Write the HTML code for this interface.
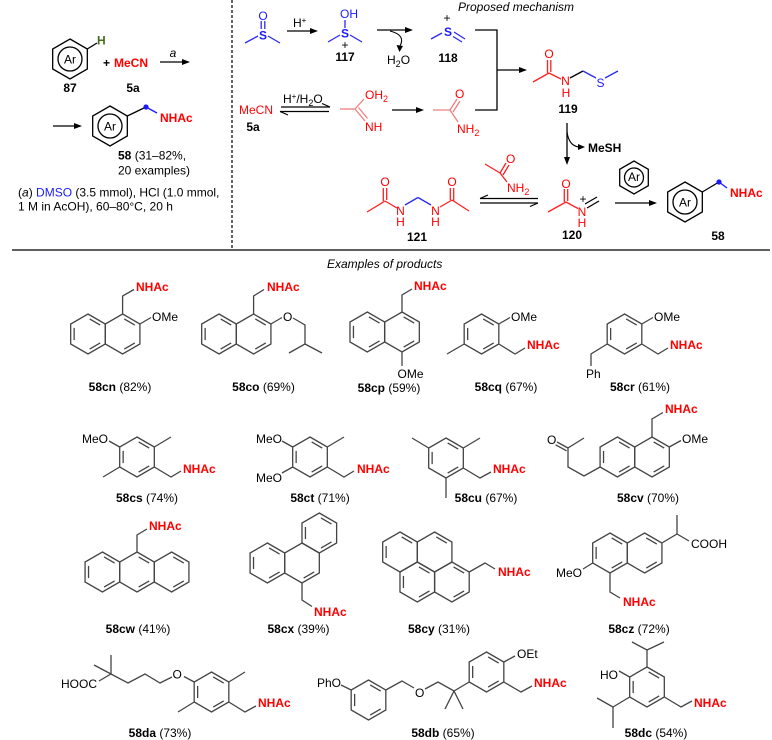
<!DOCTYPE html>
<html><head><meta charset="utf-8">
<style>
html,body{margin:0;padding:0;background:#fff;}
svg{display:block;}
text{font-family:"Liberation Sans",Arial,sans-serif;font-size:12px;fill:#000;}
.b{font-weight:bold;}
.r{fill:#ff0000;}
.bl{fill:#1a1aff;}
.i{font-style:italic;}
</style></head><body>
<svg width="772" height="740" viewBox="0 0 772 740" xmlns="http://www.w3.org/2000/svg">
<defs>
<polygon id="hx" points="0,-20 17.32,-10 17.32,10 0,20 -17.32,10 -17.32,-10" fill="none"/>
<line id="i01" x1="1.66" y1="-15.04" x2="12.2" y2="-8.96"/>
<line id="i12" x1="13.86" y1="-6.08" x2="13.86" y2="6.08"/>
<line id="i23" x1="12.2" y1="8.96" x2="1.66" y2="15.04"/>
<line id="i34" x1="-1.66" y1="15.04" x2="-12.2" y2="8.96"/>
<line id="i45" x1="-13.86" y1="6.08" x2="-13.86" y2="-6.08"/>
<line id="i50" x1="-12.2" y1="-8.96" x2="-1.66" y2="-15.04"/>
</defs>

<!-- frame lines -->
<line x1="12" y1="250" x2="770" y2="250" stroke="#000" stroke-width="1.3"/>
<line x1="232" y1="0" x2="232" y2="250" stroke="#000" stroke-width="1.2" stroke-dasharray="3,2"/>

<!-- ===== top left ===== -->
<g stroke="#000" stroke-width="1.3" fill="none">
<use href="#hx" x="70" y="59"/>
<circle cx="70" cy="59" r="12"/>
<line x1="87.3" y1="49" x2="97" y2="43"/>
<line x1="160" y1="62" x2="184" y2="62"/>
<line x1="53" y1="126" x2="76" y2="126"/>
<use href="#hx" x="110" y="126"/>
<circle cx="110" cy="126" r="12"/>
<line x1="127.3" y1="116" x2="146" y2="107"/>
</g>
<polygon points="190,62 182,59 182,65" fill="#000"/>
<polygon points="82,126 74,123 74,129" fill="#000"/>
<line x1="146" y1="107" x2="157" y2="113" stroke="#1a1aff" stroke-width="1.3"/>
<circle cx="146" cy="107" r="2.6" fill="#1a1aff"/>
<text x="70" y="63.5" text-anchor="middle">Ar</text>
<text x="110" y="130.5" text-anchor="middle">Ar</text>
<text x="97" y="44.5" class="b" style="fill:#4b6b1f">H</text>
<text x="70" y="92" text-anchor="middle" class="b">87</text>
<text x="103" y="67" class="b">+</text>
<text x="114" y="67" class="b r">MeCN</text>
<text x="133" y="92" text-anchor="middle" class="b">5a</text>
<text x="173" y="57" text-anchor="middle" class="i">a</text>
<text x="160" y="122" class="b r">NHAc</text>
<text x="118" y="159.5"><tspan class="b">58</tspan> (31–82%,</text>
<text x="118" y="174.5">20 examples)</text>
<text x="18" y="196.5">(<tspan class="i">a</tspan>) <tspan class="bl">DMSO</tspan> (3.5 mmol), HCl (1.0 mmol,</text>
<text x="18" y="210.5">1 M in AcOH), 60–80°C, 20 h</text>

<!-- ===== mechanism ===== -->
<text x="458" y="11" class="i">Proposed mechanism</text>

<!-- DMSO -->
<g stroke="#2a2aee" stroke-width="1.3">
<line x1="245" y1="43" x2="258" y2="36"/>
<line x1="268" y1="36" x2="280" y2="43"/>
<line x1="261.2" y1="21" x2="261.2" y2="29"/>
<line x1="264.8" y1="21" x2="264.8" y2="29"/>
</g>
<text x="263" y="20" text-anchor="middle" class="bl">O</text>
<text x="263" y="39.5" text-anchor="middle" class="bl b">S</text>

<!-- H+ arrow -->
<line x1="287" y1="31" x2="312" y2="31" stroke="#000" stroke-width="1.3"/>
<polygon points="318,31 310,28 310,34" fill="#000"/>
<text x="293" y="27">H<tspan dy="-4" font-size="8">+</tspan></text>

<!-- 117 -->
<g stroke="#2a2aee" stroke-width="1.3">
<line x1="345" y1="20" x2="345" y2="28"/>
<line x1="328" y1="42" x2="340" y2="35"/>
<line x1="350" y1="35" x2="362" y2="42"/>
</g>
<text x="340" y="18" class="bl">OH</text>
<text x="345" y="37.5" text-anchor="middle" class="bl b">S</text>
<text x="345" y="49" text-anchor="middle" font-size="11">+</text>
<text x="345" y="61" text-anchor="middle" class="b">117</text>

<!-- arrow to 118 -->
<line x1="377" y1="30" x2="407" y2="30" stroke="#000" stroke-width="1.3"/>
<polygon points="413,30 405,27 405,33" fill="#000"/>
<path d="M390,31 Q406,35 400,46" stroke="#000" stroke-width="1.1" fill="none"/>
<polygon points="399.5,52 396.5,45 403,46" fill="#000"/>
<text x="387" y="64">H<tspan dy="3" font-size="9">2</tspan><tspan dy="-3">O</tspan></text>

<!-- 118 -->
<g stroke="#2a2aee" stroke-width="1.3">
<line x1="431" y1="39" x2="442" y2="33"/>
<line x1="454" y1="32" x2="465" y2="39"/>
<line x1="453" y1="36.5" x2="462" y2="42"/>
</g>
<text x="447" y="22" text-anchor="middle" font-size="11">+</text>
<text x="448" y="36" text-anchor="middle" class="bl b">S</text>
<text x="448" y="62" text-anchor="middle" class="b">118</text>

<!-- bracket -->
<g stroke="#000" stroke-width="1.3" fill="none">
<polyline points="475,30 497,30 497,110 475,110"/>
<line x1="497" y1="70" x2="521" y2="70"/>
</g>
<polygon points="527,70 519,67 519,73" fill="#000"/>

<!-- MeCN row -->
<text x="239" y="114" class="r">MeCN</text>
<text x="253" y="131" text-anchor="middle" class="b">5a</text>
<text x="283" y="103">H<tspan dy="-4" font-size="8">+</tspan><tspan dy="4">/H</tspan><tspan dy="3" font-size="9">2</tspan><tspan dy="-3">O</tspan></text>
<g stroke="#000" stroke-width="1.2">
<line x1="281" y1="107" x2="330" y2="107"/>
<line x1="330" y1="107" x2="322" y2="103.5"/>
<line x1="280" y1="111.5" x2="329" y2="111.5"/>
<line x1="280" y1="111.5" x2="288" y2="115"/>
</g>

<!-- imidic acid -->
<g stroke="#f08080" stroke-width="1.3">
<line x1="340" y1="109" x2="355" y2="109"/>
<line x1="355" y1="109" x2="364" y2="99"/>
<line x1="355" y1="109" x2="365" y2="121"/>
<line x1="358.5" y1="107.5" x2="367.5" y2="118.5"/>
</g>
<text x="365" y="99" class="r">OH<tspan dy="3" font-size="9">2</tspan></text>
<text x="365" y="131" class="r">NH</text>

<line x1="392" y1="110" x2="418" y2="110" stroke="#000" stroke-width="1.3"/>
<polygon points="424,110 416,107 416,113" fill="#000"/>

<!-- acetamide -->
<g stroke="#f08080" stroke-width="1.3">
<line x1="433" y1="110" x2="450" y2="110"/>
<line x1="450" y1="110" x2="457" y2="99"/>
<line x1="453" y1="112" x2="460" y2="101"/>
<line x1="450" y1="110" x2="458" y2="122"/>
</g>
<text x="455" y="98" class="r">O</text>
<text x="457" y="133" class="r">NH<tspan dy="3" font-size="9">2</tspan></text>

<!-- 119 -->
<g stroke="#ff2020" stroke-width="1.3">
<line x1="533" y1="82" x2="549" y2="73"/>
<line x1="547.5" y1="60" x2="547.5" y2="73"/>
<line x1="550.8" y1="60" x2="550.8" y2="72"/>
<line x1="549" y1="73" x2="561" y2="79"/>
</g>
<line x1="570" y1="78" x2="583" y2="71" stroke="#000" stroke-width="1.3"/>
<g stroke="#2a2aee" stroke-width="1.3">
<line x1="583" y1="71" x2="596" y2="78"/>
<line x1="605" y1="78" x2="618" y2="71"/>
</g>
<text x="549" y="58" text-anchor="middle" class="r">O</text>
<text x="565.5" y="85" text-anchor="middle" class="r">N</text>
<text x="566" y="97" text-anchor="middle" class="r">H</text>
<text x="600.5" y="87" text-anchor="middle" class="bl">S</text>
<text x="568" y="113" text-anchor="middle" class="b">119</text>

<!-- down arrow -->
<line x1="567" y1="123" x2="567" y2="159" stroke="#000" stroke-width="1.3"/>
<polygon points="567,165 564,157 570,157" fill="#000"/>
<path d="M567,132 Q569,146 579,147" stroke="#000" stroke-width="1.1" fill="none"/>
<polygon points="585,147 578,144 578,150" fill="#000"/>
<text x="588" y="152" class="b">MeSH</text>

<!-- small acetamide -->
<g stroke="#ff2020" stroke-width="1.3">
<line x1="485" y1="164" x2="500" y2="173"/>
<line x1="500" y1="173" x2="506" y2="163"/>
<line x1="503" y1="175" x2="509" y2="165"/>
<line x1="500" y1="173" x2="507" y2="182"/>
</g>
<text x="506" y="163" class="r">O</text>
<text x="507" y="192" class="r">NH<tspan dy="3" font-size="9">2</tspan></text>

<!-- eq arrows 121/120 -->
<g stroke="#000" stroke-width="1.2">
<line x1="480" y1="198.5" x2="538" y2="198.5"/>
<line x1="480" y1="198.5" x2="488" y2="195"/>
<line x1="480" y1="203" x2="538" y2="203"/>
<line x1="538" y1="203" x2="530" y2="206.5"/>
</g>

<!-- 121 -->
<g stroke="#ff2020" stroke-width="1.3">
<line x1="367" y1="212" x2="385" y2="201"/>
<line x1="383.3" y1="188" x2="383.3" y2="201"/>
<line x1="386.7" y1="188" x2="386.7" y2="200"/>
<line x1="385" y1="201" x2="397" y2="208"/>
<line x1="440" y1="207" x2="452" y2="200"/>
<line x1="450.3" y1="188" x2="450.3" y2="200"/>
<line x1="453.7" y1="188" x2="453.7" y2="201"/>
<line x1="452" y1="200" x2="469" y2="211"/>
</g>
<g stroke="#2a2aee" stroke-width="1.3">
<line x1="405" y1="205" x2="418" y2="197.5"/>
<line x1="418" y1="197.5" x2="431" y2="205"/>
</g>
<text x="385" y="186" text-anchor="middle" class="r">O</text>
<text x="452" y="186" text-anchor="middle" class="r">O</text>
<text x="400.5" y="215" text-anchor="middle" class="r">N</text>
<text x="400.5" y="226" text-anchor="middle" class="r">H</text>
<text x="435.5" y="215" text-anchor="middle" class="r">N</text>
<text x="435.5" y="226" text-anchor="middle" class="r">H</text>
<text x="417" y="241" text-anchor="middle" class="b">121</text>

<!-- 120 -->
<g stroke="#ff2020" stroke-width="1.3">
<line x1="548" y1="212" x2="566" y2="202"/>
<line x1="564.3" y1="189" x2="564.3" y2="202"/>
<line x1="567.7" y1="189" x2="567.7" y2="201"/>
<line x1="566" y1="202" x2="578" y2="208.5"/>
</g>
<g stroke="#000" stroke-width="1.3">
<line x1="587" y1="208" x2="599" y2="201"/>
<line x1="585" y1="204" x2="597" y2="197"/>
</g>
<text x="566" y="188" text-anchor="middle" class="r">O</text>
<text x="582" y="216" text-anchor="middle" class="r">N</text>
<text x="583" y="203" text-anchor="middle" font-size="11">+</text>
<text x="582" y="227" text-anchor="middle" class="r">H</text>
<text x="572" y="239" text-anchor="middle" class="b">120</text>

<!-- Ar over arrow -->
<g stroke="#000" stroke-width="1.3" fill="none">
<polygon points="634,161 648.3,169.25 648.3,185.75 634,194 619.7,185.75 619.7,169.25"/>
<circle cx="634" cy="177.5" r="9.5"/>
<line x1="615" y1="203" x2="651" y2="203"/>
<use href="#hx" x="685" y="202"/>
<circle cx="685" cy="202" r="12"/>
<line x1="702.3" y1="192" x2="719" y2="182"/>
</g>
<text x="634" y="181" text-anchor="middle" font-size="10">Ar</text>
<polygon points="657,203 649,200 649,206" fill="#000"/>
<line x1="719" y1="182" x2="727" y2="188" stroke="#1a1aff" stroke-width="1.3"/>
<circle cx="719" cy="182" r="2.6" fill="#1a1aff"/>
<text x="685" y="206.5" text-anchor="middle">Ar</text>
<text x="730" y="197" class="b r">NHAc</text>
<text x="718" y="240" text-anchor="middle" class="b">58</text>

<!-- ===== products ===== -->
<text x="327" y="268" class="i">Examples of products</text>

<g stroke="#444" stroke-width="1.3" fill="none">
<!-- 58cn -->
<use href="#hx" x="88" y="334"/><use href="#hx" x="122.6" y="334"/>
<use href="#i45" x="88" y="334"/><use href="#i01" x="88" y="334"/><use href="#i23" x="88" y="334"/>
<use href="#i01" x="122.6" y="334"/><use href="#i23" x="122.6" y="334"/>
<polyline points="122.6,314 122.6,296 134,289.5"/>
<line x1="139.9" y1="324" x2="151" y2="317.5"/>
<!-- 58co -->
<use href="#hx" x="219" y="334"/><use href="#hx" x="253.6" y="334"/>
<use href="#i45" x="219" y="334"/><use href="#i01" x="219" y="334"/><use href="#i23" x="219" y="334"/>
<use href="#i01" x="253.6" y="334"/><use href="#i23" x="253.6" y="334"/>
<polyline points="253.6,314 253.6,296 264,289.5"/>
<line x1="270.9" y1="324" x2="282" y2="317.5"/>
<polyline points="293,318 305,325 305,344 289,353"/>
<line x1="305" y1="344" x2="322" y2="353"/>
<!-- 58cp -->
<use href="#hx" x="367.3" y="332"/><use href="#hx" x="402" y="332"/>
<use href="#i45" x="367.3" y="332"/><use href="#i01" x="367.3" y="332"/><use href="#i23" x="367.3" y="332"/>
<use href="#i01" x="402" y="332"/><use href="#i23" x="402" y="332"/>
<polyline points="402,312 402,295 412,289"/>
<line x1="402" y1="352" x2="402" y2="366"/>
<!-- 58cq -->
<use href="#hx" x="481.5" y="334"/>
<use href="#i01" x="481.5" y="334"/><use href="#i23" x="481.5" y="334"/><use href="#i45" x="481.5" y="334"/>
<line x1="464.2" y1="344" x2="447" y2="354"/>
<line x1="498.8" y1="324" x2="510" y2="317.5"/>
<polyline points="498.8,344 515,354 525,348"/>
<!-- 58cr -->
<use href="#hx" x="624.5" y="334"/>
<use href="#i01" x="624.5" y="334"/><use href="#i23" x="624.5" y="334"/><use href="#i45" x="624.5" y="334"/>
<line x1="641.8" y1="324" x2="653" y2="317.5"/>
<polyline points="641.8,344 658,354 668,348"/>
<polyline points="607.2,344 591,354 591,366"/>

<!-- 58cs -->
<use href="#hx" x="137" y="457"/>
<use href="#i01" x="137" y="457"/><use href="#i23" x="137" y="457"/><use href="#i45" x="137" y="457"/>
<line x1="154.3" y1="447" x2="171" y2="437"/>
<polyline points="154.3,467 171,477 181,471"/>
<line x1="119.7" y1="447" x2="109" y2="441"/>
<line x1="119.7" y1="467" x2="103" y2="477"/>
<!-- 58ct -->
<use href="#hx" x="310" y="457"/>
<use href="#i01" x="310" y="457"/><use href="#i23" x="310" y="457"/><use href="#i45" x="310" y="457"/>
<line x1="327.3" y1="447" x2="344" y2="437"/>
<polyline points="327.3,467 344,477 354,471"/>
<line x1="292.7" y1="447" x2="282" y2="441"/>
<line x1="292.7" y1="467" x2="282" y2="473"/>
<!-- 58cu -->
<use href="#hx" x="446" y="458"/>
<use href="#i01" x="446" y="458"/><use href="#i23" x="446" y="458"/><use href="#i45" x="446" y="458"/>
<line x1="428.7" y1="448" x2="412" y2="438"/>
<line x1="463.3" y1="448" x2="480" y2="438"/>
<line x1="446" y1="478" x2="446" y2="498"/>
<polyline points="463.3,468 480,478 491,472"/>
<!-- 58cv -->
<use href="#hx" x="617.4" y="457"/><use href="#hx" x="652" y="457"/>
<use href="#i45" x="617.4" y="457"/><use href="#i01" x="617.4" y="457"/><use href="#i23" x="617.4" y="457"/>
<use href="#i01" x="652" y="457"/><use href="#i23" x="652" y="457"/>
<polyline points="652,437 652,419 663,412.5"/>
<line x1="669.3" y1="447" x2="681" y2="440.5"/>
<polyline points="600.1,467 584,476 568,467 568,448 584,438"/>
<line x1="568" y1="448" x2="557" y2="442"/>
<line x1="566.6" y1="450.8" x2="555.6" y2="444.8"/>

<!-- 58cw -->
<use href="#hx" x="102.4" y="572"/><use href="#hx" x="137" y="572"/><use href="#hx" x="171.6" y="572"/>
<use href="#i45" x="102.4" y="572"/><use href="#i01" x="102.4" y="572"/><use href="#i23" x="102.4" y="572"/>
<use href="#i01" x="137" y="572"/><use href="#i23" x="137" y="572"/>
<use href="#i01" x="171.6" y="572"/><use href="#i23" x="171.6" y="572"/>
<polyline points="137,552 137,535 147,529"/>
<!-- 58cx -->
<use href="#hx" x="267.4" y="563"/><use href="#hx" x="302" y="563"/><use href="#hx" x="319.3" y="533"/>
<use href="#i45" x="267.4" y="563"/><use href="#i01" x="267.4" y="563"/><use href="#i23" x="267.4" y="563"/>
<use href="#i23" x="302" y="563"/>
<use href="#i23" x="319.3" y="533"/><use href="#i01" x="319.3" y="533"/><use href="#i45" x="319.3" y="533"/>
<polyline points="302,583 302,600 312,606.5"/>
<!-- 58cy -->
<use href="#hx" x="400" y="552"/><use href="#hx" x="434.6" y="552"/>
<use href="#hx" x="417.3" y="582"/><use href="#hx" x="451.9" y="582"/>
<use href="#i45" x="400" y="552"/><use href="#i01" x="400" y="552"/>
<use href="#i01" x="434.6" y="552"/>
<use href="#i01" x="417.3" y="582"/><use href="#i45" x="417.3" y="582"/><use href="#i23" x="417.3" y="582"/>
<use href="#i23" x="451.9" y="582"/><use href="#i01" x="451.9" y="582"/>
<polyline points="469.2,572 485,563 495,569"/>
<!-- 58cz -->
<use href="#hx" x="610" y="553"/><use href="#hx" x="644.6" y="553"/>
<use href="#i45" x="610" y="553"/><use href="#i01" x="610" y="553"/><use href="#i23" x="610" y="553"/>
<use href="#i01" x="644.6" y="553"/><use href="#i23" x="644.6" y="553"/>
<line x1="592.7" y1="563" x2="583" y2="569"/>
<polyline points="610,573 610,592 620,598"/>
<polyline points="661.9,543 677,534 689,541"/>
<line x1="677" y1="534" x2="677" y2="515"/>

<!-- 58da -->
<use href="#hx" x="211.5" y="692"/>
<use href="#i01" x="211.5" y="692"/><use href="#i23" x="211.5" y="692"/><use href="#i45" x="211.5" y="692"/>
<line x1="228.8" y1="682" x2="245" y2="672"/>
<polyline points="228.8,702 245,712 256,706"/>
<line x1="194.2" y1="702" x2="178" y2="712"/>
<line x1="194.2" y1="682" x2="184" y2="676.5"/>
<polyline points="172,677 160,683 145,674 128,683 111,674 99,681"/>
<line x1="111" y1="674" x2="111" y2="655"/>
<line x1="111" y1="674" x2="94" y2="665"/>
<!-- 58db -->
<line x1="341" y1="685" x2="351.2" y2="690"/>
<use href="#hx" x="368.5" y="700"/>
<use href="#i01" x="368.5" y="700"/><use href="#i23" x="368.5" y="700"/><use href="#i45" x="368.5" y="700"/>
<polyline points="385.8,690 402,681 414,688"/>
<polyline points="425,689 438,682 454,691 469.2,682"/>
<line x1="454" y1="691" x2="445" y2="709"/>
<line x1="454" y1="691" x2="463" y2="709"/>
<use href="#hx" x="486.5" y="672"/>
<use href="#i01" x="486.5" y="672"/><use href="#i23" x="486.5" y="672"/><use href="#i45" x="486.5" y="672"/>
<line x1="503.8" y1="662" x2="515" y2="656"/>
<polyline points="503.8,682 521,692 532,686"/>
<!-- 58dc -->
<use href="#hx" x="647" y="687"/>
<use href="#i01" x="647" y="687"/><use href="#i23" x="647" y="687"/><use href="#i45" x="647" y="687"/>
<polyline points="632,642 647,650 664,642"/>
<line x1="647" y1="650" x2="647" y2="667"/>
<line x1="629.7" y1="677" x2="619" y2="671"/>
<polyline points="597,698 613,707 613,728"/>
<line x1="613" y1="707" x2="629.7" y2="697"/>
<polyline points="664.3,697 681,707 692,701"/>
</g>

<!-- product texts row 1 -->
<text x="136" y="291" class="b r">NHAc</text>
<text x="152" y="321">OMe</text>
<text x="120" y="391" text-anchor="middle"><tspan class="b">58cn</tspan> (82%)</text>
<text x="267" y="291" class="b r">NHAc</text>
<text x="283" y="321">O</text>
<text x="263.5" y="391" text-anchor="middle"><tspan class="b">58co</tspan> (69%)</text>
<text x="414" y="290" class="b r">NHAc</text>
<text x="397.5" y="378">OMe</text>
<text x="389" y="392" text-anchor="middle"><tspan class="b">58cp</tspan> (59%)</text>
<text x="511" y="321">OMe</text>
<text x="527" y="349" class="b r">NHAc</text>
<text x="506" y="391" text-anchor="middle"><tspan class="b">58cq</tspan> (67%)</text>
<text x="654" y="321">OMe</text>
<text x="670" y="349" class="b r">NHAc</text>
<text x="586" y="378">Ph</text>
<text x="640" y="391" text-anchor="middle"><tspan class="b">58cr</tspan> (61%)</text>

<!-- row 2 -->
<text x="82" y="443">MeO</text>
<text x="183" y="473" class="b r">NHAc</text>
<text x="147" y="502" text-anchor="middle"><tspan class="b">58cs</tspan> (74%)</text>
<text x="256" y="443">MeO</text>
<text x="256" y="482">MeO</text>
<text x="357" y="473" class="b r">NHAc</text>
<text x="320" y="502" text-anchor="middle"><tspan class="b">58ct</tspan> (71%)</text>
<text x="493" y="473" class="b r">NHAc</text>
<text x="486" y="502" text-anchor="middle"><tspan class="b">58cu</tspan> (67%)</text>
<text x="665" y="413" class="b r">NHAc</text>
<text x="682" y="443">OMe</text>
<text x="547" y="444">O</text>
<text x="648" y="502" text-anchor="middle"><tspan class="b">58cv</tspan> (70%)</text>

<!-- row 3 -->
<text x="149" y="530" class="b r">NHAc</text>
<text x="138" y="633" text-anchor="middle"><tspan class="b">58cw</tspan> (41%)</text>
<text x="314" y="616" class="b r">NHAc</text>
<text x="298.5" y="633" text-anchor="middle"><tspan class="b">58cx</tspan> (39%)</text>
<text x="498" y="576" class="b r">NHAc</text>
<text x="439" y="633" text-anchor="middle"><tspan class="b">58cy</tspan> (31%)</text>
<text x="556" y="577">MeO</text>
<text x="623" y="606" class="b r">NHAc</text>
<text x="691" y="548">COOH</text>
<text x="639" y="633" text-anchor="middle"><tspan class="b">58cz</tspan> (72%)</text>

<!-- row 4 -->
<text x="172.5" y="678.5">O</text>
<text x="61" y="688">HOOC</text>
<text x="258" y="707" class="b r">NHAc</text>
<text x="160" y="737" text-anchor="middle"><tspan class="b">58da</tspan> (73%)</text>
<text x="317" y="687">PhO</text>
<text x="415" y="697">O</text>
<text x="517" y="658">OEt</text>
<text x="534" y="687" class="b r">NHAc</text>
<text x="443" y="737" text-anchor="middle"><tspan class="b">58db</tspan> (65%)</text>
<text x="600" y="679">HO</text>
<text x="694" y="707" class="b r">NHAc</text>
<text x="656" y="737" text-anchor="middle"><tspan class="b">58dc</tspan> (54%)</text>
</svg>
</body></html>
